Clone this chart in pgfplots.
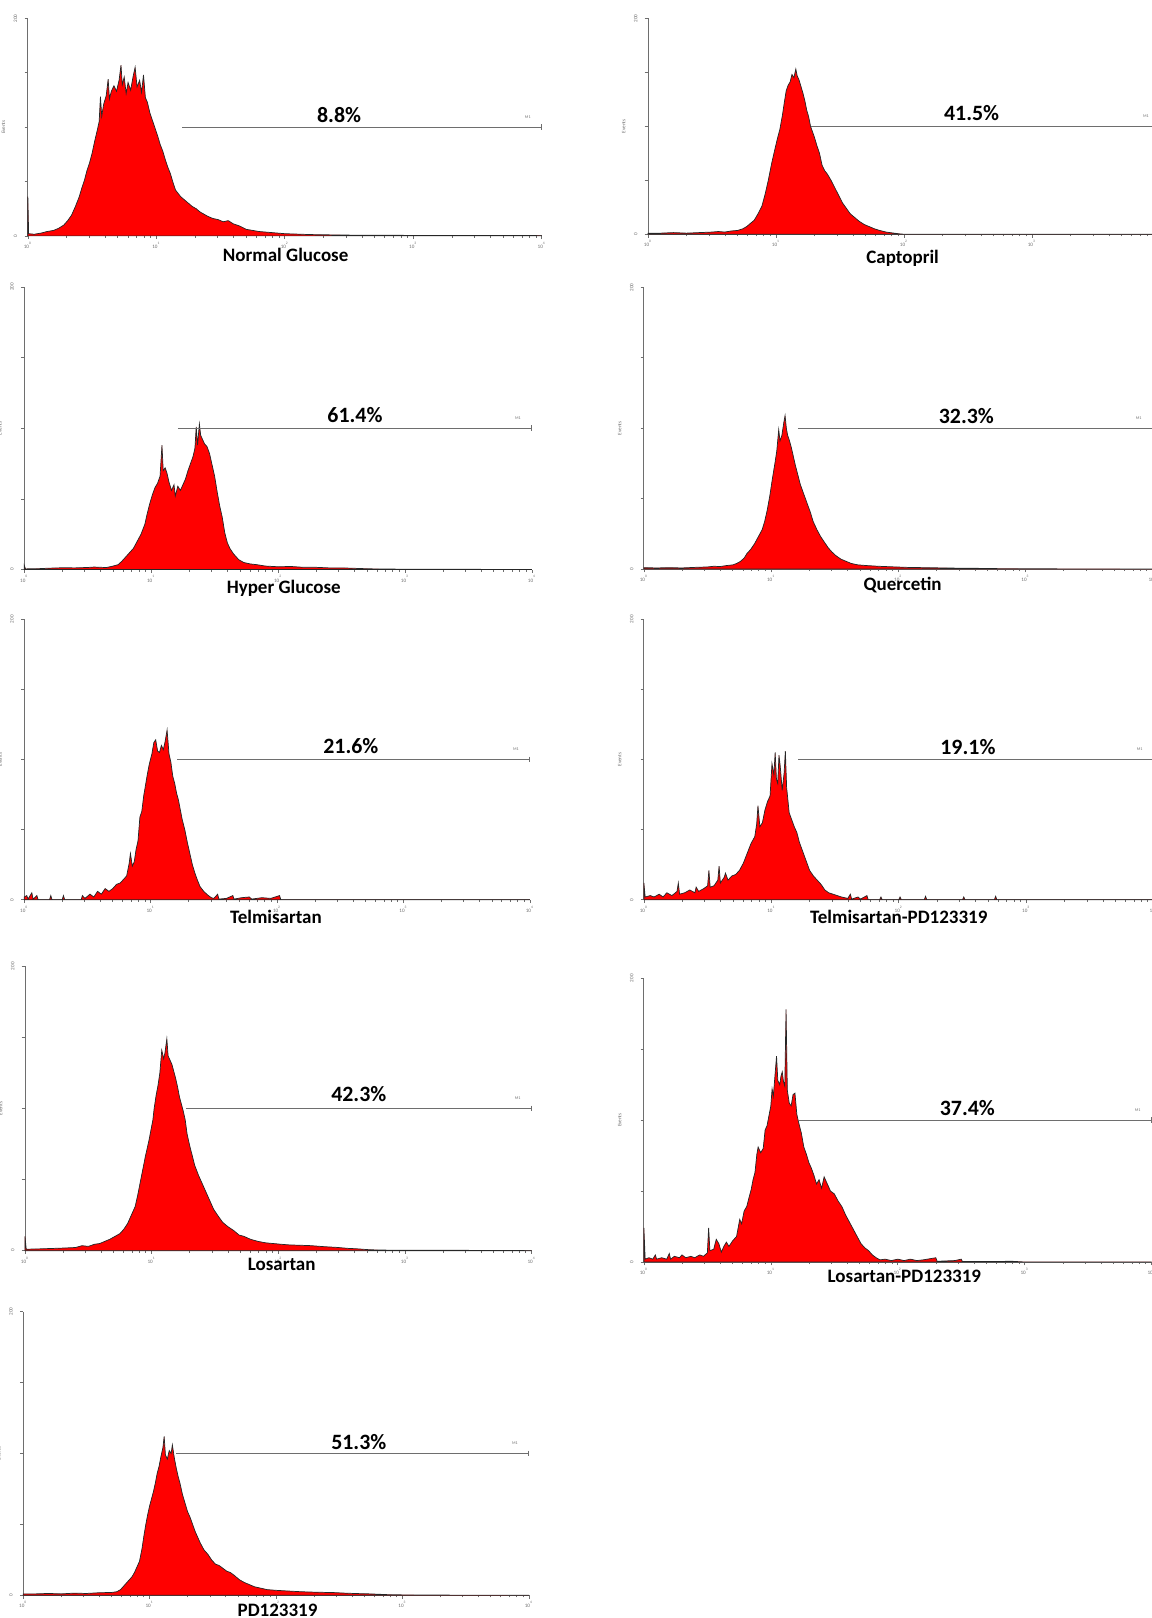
\documentclass[border=0pt]{standalone}
\usepackage{fontspec}
\setmainfont{Carlito}
\usepackage{pgfplots}
\pgfplotsset{compat=1.18}
\definecolor{axgray}{RGB}{110,110,110}
\pgfplotsset{
  facs/.style={
    scale only axis, anchor=south west, clip=false,
    xmin=0, xmax=4, ymin=0, ymax=200,
    axis x line=bottom, axis y line=left,
    axis line style={-, draw=axgray, line width=0.4pt},
    xtick={0,1,2,3,4},
    xticklabels={10\textsuperscript{0},10\textsuperscript{1},10\textsuperscript{2},10\textsuperscript{3},10\textsuperscript{4}},
    minor xtick={0.301,0.477,0.602,0.699,0.778,0.845,0.903,0.954,
                 1.301,1.477,1.602,1.699,1.778,1.845,1.903,1.954,
                 2.301,2.477,2.602,2.699,2.778,2.845,2.903,2.954,
                 3.301,3.477,3.602,3.699,3.778,3.845,3.903,3.954},
    ytick={0,50,100,150,200}, yticklabels={0,,,,200},
    tick align=outside, major tick length=1.6pt, minor tick length=1pt,
    tick style={draw=axgray, line width=0.3pt},
    tick label style={font=\fontsize{2.5}{3}\selectfont, text=axgray},
    xticklabel style={yshift=2.2pt},
    yticklabel style={rotate=90, anchor=south},
    ylabel={Events},
    ylabel style={font=\fontsize{2.5}{3}\selectfont, text=axgray, at={(axis description cs:-0.03,0.5)}, anchor=south},
  },
  hist/.style={fill=red, draw=black!85, line width=0.35pt, line join=miter},
  gate/.style={draw=axgray, line width=0.45pt, mark=|, mark indices={2}, mark size=1.4pt, mark options={solid, draw=axgray}},
}
\newcommand{\gatelabel}{\node[font=\fontsize{2}{2}\selectfont, text=axgray, anchor=south east] at (axis cs:3.97,101) {M1};}
\tikzset{pct/.style={font=\fontsize{10.6}{12}\selectfont\bfseries, anchor=center},
         lab/.style={font=\fontsize{9.2}{11}\selectfont\bfseries, anchor=center}}
\begin{document}
\begin{tikzpicture}[x=0.5pt,y=0.5pt]
\path[use as bounding box] (0,0) rectangle (1116,1568);

% Panel 1: Normal Glucose
\begin{axis}[facs, at={(13.5pt,669.7pt)}, width=249pt, height=105.4pt]
\addplot[hist] coordinates {(0,0)(0,36)(0.006,2)(0.05,1.5)(0.1,2.5)(0.15,4)(0.2,5)(0.24,7)(0.28,10)(0.31,14)(0.34,19)(0.37,27)(0.40,36)(0.42,44)(0.44,51)(0.46,60)(0.48,67)(0.50,76)(0.52,87)(0.54,97)(0.555,105)(0.565,128)(0.575,110)(0.59,121)(0.61,129)(0.625,144)(0.635,126)(0.65,133)(0.67,138)(0.69,133)(0.71,143)(0.725,157)(0.735,139)(0.75,146)(0.765,131)(0.78,141)(0.80,134)(0.82,147)(0.835,155)(0.85,137)(0.87,143)(0.885,132)(0.90,148)(0.915,127)(0.93,123)(0.95,113)(0.97,106)(0.99,99)(1.01,92)(1.03,84)(1.05,78)(1.07,70)(1.09,63)(1.11,57)(1.13,49)(1.15,42)(1.17,39)(1.19,36)(1.22,33)(1.25,30)(1.28,27)(1.31,25)(1.34,22)(1.37,20)(1.40,18)(1.44,16)(1.48,15)(1.52,13)(1.56,14)(1.60,11)(1.65,9)(1.70,6)(1.75,5)(1.80,4)(1.85,3.5)(1.90,3)(2.0,2)(2.1,1.6)(2.2,1.2)(2.3,1)(2.5,0.7)(2.8,0.5)(3.2,0.4)(3.6,0.3)(3.95,0.3)(4,0)} \closedcycle;
\addplot[gate] coordinates {(1.20,100)(4,100)};
\gatelabel
\end{axis}
\node[pct] at (328.6,1456.6) {8.8\%};
\node[lab] at (276.8,1321) {Normal Glucose};

% Panel 2: Captopril
\begin{axis}[facs, at={(314pt,670.5pt)}, width=248pt, height=104.6pt]
\addplot[hist] coordinates {(0,0)(0,1)(0.1,1)(0.2,1.5)(0.3,1)(0.4,1.5)(0.5,2)(0.55,2.5)(0.6,2)(0.65,3)(0.7,3.5)(0.74,5)(0.77,7)(0.80,10)(0.83,13)(0.86,19)(0.89,26)(0.915,37)(0.94,50)(0.965,65)(0.99,78)(1.01,88)(1.03,97)(1.05,110)(1.065,122)(1.08,133)(1.095,138)(1.11,141)(1.125,148)(1.14,145)(1.155,153)(1.165,147)(1.18,143)(1.195,137)(1.21,131)(1.225,124)(1.24,115)(1.255,109)(1.27,100)(1.285,95)(1.30,90)(1.32,82)(1.34,75)(1.36,64)(1.38,59)(1.40,56)(1.43,50)(1.46,43)(1.49,36)(1.52,29)(1.55,24)(1.58,19)(1.61,16)(1.65,12)(1.69,9)(1.73,7)(1.77,5)(1.81,3.5)(1.86,2)(1.91,1.2)(1.96,0.4)(2.0,0)(4,0)} \closedcycle;
\addplot[gate] coordinates {(1.27,100)(4,100)};
\gatelabel
\end{axis}
\node[pct] at (941.6,1458.2) {41.5\%};
\node[lab] at (874.7,1318) {Captopril};

% Panel 3: Hyper Glucose
\begin{axis}[facs, at={(11.75pt,508pt)}, width=246pt, height=137pt]
\addplot[hist] coordinates {(0,0)(0,3)(0.01,0.5)(0.1,0.6)(0.2,1)(0.3,1.3)(0.4,1.2)(0.5,1.5)(0.55,1.8)(0.6,1.6)(0.65,1.5)(0.70,2.5)(0.74,3.5)(0.77,6)(0.80,9)(0.83,12)(0.86,15)(0.89,20)(0.92,25)(0.95,32)(0.97,40)(0.99,47)(1.01,53)(1.03,58)(1.05,61)(1.07,66)(1.085,88)(1.095,70)(1.11,72)(1.125,68)(1.14,62)(1.16,56)(1.18,60)(1.19,52)(1.21,59)(1.23,56)(1.25,60)(1.27,64)(1.29,70)(1.31,75)(1.33,80)(1.345,86)(1.355,101)(1.365,88)(1.38,103)(1.39,95)(1.405,92)(1.42,89)(1.44,87)(1.46,82)(1.48,74)(1.50,66)(1.52,55)(1.54,45)(1.56,37)(1.58,26)(1.60,19)(1.62,15)(1.65,11)(1.69,7)(1.73,5)(1.78,4)(1.83,3.5)(1.9,2.5)(2.0,2)(2.1,2.2)(2.2,1.6)(2.3,1.6)(2.4,1.2)(2.5,1.2)(2.6,0.9)(2.7,0.6)(2.8,0.4)(3.0,0.3)(3.5,0.2)(4,0)} \closedcycle;
\addplot[gate] coordinates {(1.21,100)(4,100)};
\gatelabel
\end{axis}
\node[pct] at (344,1166) {61.4\%};
\node[lab] at (275,998) {Hyper Glucose};

% Panel 4: Quercetin
\begin{axis}[facs, at={(312pt,508.25pt)}, width=246.5pt, height=136.5pt]
\addplot[hist] coordinates {(0,0)(0,1)(0.1,0.8)(0.2,1)(0.3,0.8)(0.4,1.2)(0.5,1.5)(0.55,2)(0.6,1.8)(0.65,2.5)(0.70,3)(0.73,4)(0.76,5.5)(0.79,8)(0.81,11)(0.84,14)(0.87,18)(0.90,23)(0.93,28)(0.95,34)(0.97,42)(0.99,52)(1.01,64)(1.03,75)(1.045,84)(1.06,99)(1.07,91)(1.085,95)(1.10,104)(1.11,109)(1.12,100)(1.13,95)(1.145,91)(1.16,86)(1.175,80)(1.19,74)(1.21,67)(1.23,60)(1.25,55)(1.27,50)(1.29,45)(1.31,40)(1.33,34)(1.36,28)(1.39,23)(1.42,19)(1.45,15)(1.48,12)(1.51,9.5)(1.55,7)(1.59,5.5)(1.63,4)(1.68,3)(1.75,2.5)(1.84,2)(1.95,1.6)(2.07,1.2)(2.2,1)(2.36,0.8)(2.5,0.6)(2.64,0.5)(2.8,0.3)(3.0,0.2)(4,0)} \closedcycle;
\addplot[gate] coordinates {(1.21,100)(4,100)};
\gatelabel
\end{axis}
\node[pct] at (936.5,1165) {32.3\%};
\node[lab] at (874.7,1001.3) {Quercetin};

% Panel 5: Telmisartan
\begin{axis}[facs, at={(11.75pt,348pt)}, width=245pt, height=136pt]
\addplot[hist] coordinates {(0,0)(0,2)(0.02,3)(0.03,0.5)(0.06,5)(0.07,0.5)(0.1,3)(0.11,0)(0.2,0)(0.21,3)(0.22,0)(0.3,0)(0.31,3)(0.32,0)(0.45,0)(0.46,3)(0.48,1)(0.52,4)(0.55,2)(0.58,6)(0.61,4)(0.64,8)(0.67,6)(0.70,8)(0.73,11)(0.76,12)(0.79,15)(0.81,17)(0.83,26)(0.84,33)(0.855,24)(0.87,27)(0.885,36)(0.90,42)(0.915,59)(0.93,63)(0.945,74)(0.96,82)(0.975,90)(0.99,97)(1.01,104)(1.025,112)(1.04,114)(1.055,106)(1.07,105)(1.085,110)(1.10,107)(1.115,113)(1.13,121)(1.145,104)(1.16,98)(1.175,88)(1.19,83)(1.205,76)(1.22,71)(1.235,64)(1.25,57)(1.27,50)(1.29,41)(1.31,33)(1.33,25)(1.35,19)(1.37,14)(1.39,9.5)(1.42,6)(1.45,3.5)(1.48,1.5)(1.5,1)(1.53,4)(1.54,0.5)(1.6,1)(1.65,3)(1.66,0.5)(1.72,1.5)(1.78,2)(1.8,0.5)(1.88,1.5)(1.95,1)(2.02,3)(2.03,0)(4,0)} \closedcycle;
\addplot[gate] coordinates {(1.21,100)(4,100)};
\gatelabel
\end{axis}
\node[pct] at (340,845) {21.6\%};
\node[lab] at (267.4,679.4) {Telmisartan};

% Panel 6: Telmisartan-PD123319
\begin{axis}[facs, at={(312pt,348pt)}, width=247pt, height=136pt]
\addplot[hist] coordinates {(0,0)(0,12)(0.01,2)(0.05,3)(0.08,2)(0.12,4)(0.15,2)(0.18,5)(0.22,3)(0.26,6)(0.27,12)(0.28,4)(0.32,5)(0.36,7)(0.40,5)(0.41,9)(0.43,6)(0.47,8)(0.50,10)(0.51,21)(0.52,9)(0.55,10)(0.58,14)(0.59,24)(0.60,12)(0.63,16)(0.64,19)(0.66,14)(0.69,17)(0.72,18)(0.75,21)(0.78,26)(0.81,33)(0.84,40)(0.87,45)(0.885,54)(0.895,67)(0.91,52)(0.93,55)(0.95,64)(0.97,70)(0.99,74)(1.005,97)(1.02,89)(1.03,105)(1.04,86)(1.05,83)(1.06,103)(1.07,95)(1.085,78)(1.10,90)(1.11,106)(1.12,80)(1.14,62)(1.16,57)(1.18,52)(1.20,48)(1.22,41)(1.24,36)(1.26,31)(1.28,26)(1.30,21)(1.33,17)(1.36,14)(1.39,11)(1.42,7)(1.45,5)(1.50,3.5)(1.55,2)(1.6,1)(1.62,4)(1.63,0.5)(1.68,2)(1.7,0.5)(1.75,3)(1.76,0)(1.85,0)(1.86,2)(1.87,0)(2.0,0)(2.01,2)(2.02,0)(2.2,0)(2.21,2.5)(2.22,0)(2.5,0)(2.51,2)(2.52,0)(2.75,0)(2.76,2.5)(2.77,0)(4,0)} \closedcycle;
\addplot[gate] coordinates {(1.21,100)(4,100)};
\gatelabel
\end{axis}
\node[pct] at (938,844) {19.1\%};
\node[lab] at (871,679.4) {Telmisartan-PD123319};

% Panel 7: Losartan
\begin{axis}[facs, at={(12.1pt,178pt)}, width=245.5pt, height=137.8pt]
\addplot[hist] coordinates {(0,0)(0,10)(0.01,1)(0.1,1.2)(0.2,1.5)(0.3,1.8)(0.4,2.2)(0.45,3.5)(0.5,3)(0.55,4.5)(0.59,5)(0.63,6.5)(0.67,8)(0.71,10)(0.75,12)(0.78,15)(0.81,19)(0.84,25)(0.87,31)(0.89,39)(0.91,48)(0.93,57)(0.95,66)(0.965,72)(0.98,78)(0.995,85)(1.01,92)(1.02,100)(1.035,109)(1.05,116)(1.065,125)(1.08,141)(1.095,135)(1.105,139)(1.12,149)(1.13,137)(1.145,134)(1.16,131)(1.175,126)(1.19,121)(1.205,115)(1.22,108)(1.235,103)(1.25,98)(1.265,92)(1.28,82)(1.30,74)(1.32,67)(1.34,60)(1.37,53)(1.40,47)(1.43,41)(1.46,35)(1.49,29)(1.52,25)(1.56,20)(1.60,17)(1.65,14)(1.69,11)(1.73,10)(1.78,8)(1.84,6.5)(1.9,5.5)(1.96,5)(2.02,4.5)(2.09,4)(2.17,3.8)(2.26,3.5)(2.36,2.8)(2.46,2.3)(2.55,1.6)(2.62,1.3)(2.71,0.7)(2.8,0.4)(3.0,0.3)(3.5,0.2)(4,0)} \closedcycle;
\addplot[gate] coordinates {(1.27,100)(4,100)};
\gatelabel
\end{axis}
\node[pct] at (347.7,507.3) {42.3\%};
\node[lab] at (273,342.6) {Losartan};

% Panel 8: Losartan-PD123319
\begin{axis}[facs, at={(312pt,172.5pt)}, width=246pt, height=137.5pt]
\addplot[hist] coordinates {(0,0)(0,24)(0.01,2)(0.04,3)(0.07,2)(0.09,5)(0.1,2)(0.14,3)(0.18,2)(0.2,6)(0.21,2)(0.24,4)(0.28,3)(0.30,5)(0.33,3)(0.37,4)(0.40,3)(0.44,5)(0.47,4)(0.50,6.5)(0.51,24)(0.52,8)(0.55,9)(0.57,16)(0.59,13)(0.61,7)(0.63,11)(0.65,14)(0.67,11)(0.70,15)(0.73,18)(0.755,30)(0.77,27)(0.79,36)(0.81,39)(0.83,46)(0.845,51)(0.86,58)(0.875,63)(0.89,76)(0.90,81)(0.92,77)(0.94,80)(0.955,93)(0.97,96)(0.985,103)(1.0,110)(1.01,122)(1.02,117)(1.035,134)(1.045,145)(1.055,128)(1.07,125)(1.08,131)(1.09,134)(1.10,127)(1.11,124)(1.12,178)(1.13,121)(1.145,112)(1.16,110)(1.175,118)(1.19,119)(1.205,104)(1.22,98)(1.24,91)(1.26,81)(1.28,76)(1.30,70)(1.32,66)(1.34,61)(1.36,55)(1.38,58)(1.40,52)(1.42,60)(1.44,56)(1.47,50)(1.50,48)(1.53,43)(1.56,39)(1.59,33)(1.62,28)(1.65,23)(1.68,18)(1.71,13)(1.74,10)(1.77,8)(1.80,5)(1.83,3)(1.86,1.5)(1.9,2)(1.95,1)(2.0,2)(2.05,1)(2.1,2)(2.15,1)(2.2,1.5)(2.3,3)(2.31,0.5)(2.45,1)(2.5,2)(2.51,0.3)(2.7,0.3)(2.9,0.5)(3.0,0)(4,0)} \closedcycle;
\addplot[gate] coordinates {(1.22,100)(4,100)};
\gatelabel
\end{axis}
\node[pct] at (937.5,494.6) {37.4\%};
\node[lab] at (876.4,331.3) {Losartan-PD123319};

% Panel 9: PD123319
\begin{axis}[facs, at={(11.25pt,11pt)}, width=245pt, height=137.5pt]
\addplot[hist] coordinates {(0,0)(0,1)(0.1,1)(0.2,1.3)(0.3,1)(0.4,1.5)(0.5,1.3)(0.6,1.8)(0.7,2)(0.74,2.5)(0.77,4)(0.80,7)(0.83,10)(0.86,13)(0.88,16)(0.90,20)(0.92,24)(0.94,33)(0.955,42)(0.97,50)(0.985,57)(1.0,63)(1.015,68)(1.03,73)(1.045,79)(1.06,86)(1.075,91)(1.09,98)(1.105,104)(1.115,112)(1.125,99)(1.14,96)(1.155,102)(1.17,100)(1.18,106)(1.195,97)(1.21,90)(1.225,84)(1.24,79)(1.26,71)(1.28,65)(1.30,59)(1.32,55)(1.34,50)(1.36,45)(1.38,41)(1.40,37)(1.43,32)(1.46,29)(1.49,25)(1.52,22)(1.55,21)(1.58,19)(1.61,17)(1.64,16)(1.67,14)(1.71,11)(1.75,9)(1.79,7.5)(1.83,6)(1.88,5)(1.93,4)(2.0,3.5)(2.1,3)(2.18,2.6)(2.26,2.3)(2.36,2.1)(2.46,1.9)(2.55,1.5)(2.65,1.2)(2.74,1)(2.82,0.7)(2.9,0.4)(3.1,0.2)(3.5,0.1)(4,0)} \closedcycle;
\addplot[gate] coordinates {(1.21,100)(4,100)};
\gatelabel
\end{axis}
\node[pct] at (347.7,170.5) {51.3\%};
\node[lab] at (269,7) {PD123319};
\end{tikzpicture}
\end{document}
